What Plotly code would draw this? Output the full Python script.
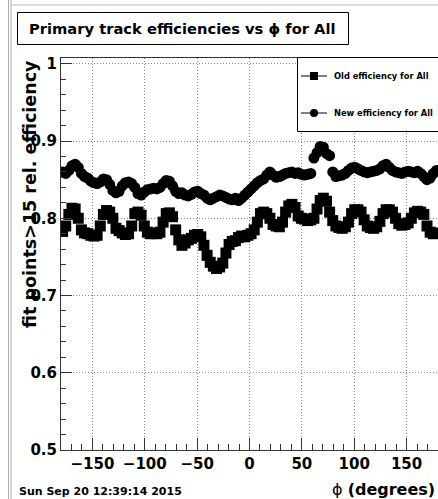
import numpy as np
import plotly.graph_objects as go

# phi bin centres (3 degree bins over the full azimuth)
phi = np.arange(-178.5, 180.0, 3.0)

# relative efficiency, old tracking (one row per 30 degrees)
old_eff = [
    0.783, 0.790, 0.805, 0.813, 0.812, 0.800, 0.785, 0.781, 0.780, 0.778,
    0.777, 0.778, 0.790, 0.805, 0.810, 0.808, 0.800, 0.787, 0.784, 0.781,
    0.779, 0.780, 0.790, 0.806, 0.808, 0.804, 0.790, 0.782, 0.780, 0.781,
    0.780, 0.782, 0.795, 0.806, 0.807, 0.802, 0.785, 0.772, 0.765, 0.768,
    0.772, 0.774, 0.778, 0.779, 0.776, 0.765, 0.752, 0.743, 0.738, 0.735,
    0.737, 0.742, 0.755, 0.766, 0.770, 0.771, 0.775, 0.777, 0.776, 0.778,
    0.780, 0.785, 0.795, 0.806, 0.808, 0.806, 0.800, 0.792, 0.790, 0.789,
    0.795, 0.808, 0.816, 0.818, 0.814, 0.803, 0.800, 0.799, 0.797, 0.798,
    0.800, 0.812, 0.823, 0.826, 0.822, 0.808, 0.797, 0.790, 0.788, 0.787,
    0.789, 0.795, 0.806, 0.811, 0.811, 0.808, 0.798, 0.790, 0.788, 0.787,
    0.789, 0.796, 0.806, 0.811, 0.811, 0.808, 0.800, 0.793, 0.791, 0.792,
    0.794, 0.800, 0.807, 0.809, 0.808, 0.805, 0.790, 0.782, 0.780, 0.781,
]

# relative efficiency, new tracking
new_eff = [
    0.860, 0.858, 0.862, 0.868, 0.870, 0.866, 0.858, 0.854, 0.852, 0.848,
    0.846, 0.845, 0.847, 0.851, 0.850, 0.844, 0.836, 0.833, 0.835, 0.842,
    0.846, 0.847, 0.845, 0.840, 0.832, 0.830, 0.834, 0.837, 0.838, 0.839,
    0.838, 0.840, 0.845, 0.849, 0.848, 0.842, 0.835, 0.832, 0.833, 0.830,
    0.829, 0.831, 0.834, 0.835, 0.832, 0.830, 0.826, 0.824, 0.826, 0.828,
    0.830, 0.829, 0.827, 0.825, 0.824, 0.826, 0.823, 0.826, 0.830, 0.834,
    0.838, 0.842, 0.846, 0.849, 0.851, 0.856, 0.860, 0.856, 0.853, 0.854,
    0.856, 0.858, 0.859, 0.860, 0.858, 0.859, 0.857, 0.856, 0.857, 0.858,
    0.878, 0.885, 0.893, 0.892, 0.884, 0.881, 0.860, 0.854, 0.855, 0.856,
    0.858, 0.862, 0.865, 0.866, 0.864, 0.862, 0.860, 0.859, 0.860, 0.861,
    0.862, 0.864, 0.868, 0.870, 0.866, 0.862, 0.860, 0.859, 0.858, 0.860,
    0.861, 0.860, 0.859, 0.861, 0.858, 0.854, 0.850, 0.852, 0.858, 0.862,
]

series_names = ["Old efficiency for All", "New efficiency for All"]
title_text = "Primary track efficiencies vs \u03d5 for All"
y_title = "fit points>15 rel. efficiency"
x_title = "\u03d5 <b>(degrees)</b>"
date_text = "Sun Sep 20 12:39:14 2015"

W, H = 438, 499
L, R, T, B = 61, 0, 58, 49
pw, ph = W - L - R, H - T - B

def px(x):
    return (x - L) / pw

def py(y):
    return (H - B - y) / ph

FONT = "DejaVu Sans"

fig = go.Figure()
fig.add_trace(go.Scatter(x=phi, y=old_eff, mode="markers", name=series_names[0],
                         marker=dict(symbol="square", size=11, color="black",
                                     line=dict(width=0))))
fig.add_trace(go.Scatter(x=phi, y=new_eff, mode="markers", name=series_names[1],
                         marker=dict(symbol="circle", size=11, color="black",
                                     line=dict(width=0))))

axis_common = dict(
    showline=True, linecolor="#333", linewidth=1, mirror=True,
    ticks="inside", tickcolor="#333", showgrid=True, gridcolor="#888",
    griddash="1px,2px", gridwidth=1, zeroline=False, automargin=False,
    tickfont=dict(family=FONT, size=15, color="black", weight="bold"),
)

fig.update_xaxes(range=[-180, 180], tick0=0, dtick=50, ticklen=12,
                 minor=dict(dtick=10, ticklen=6, ticks="inside", tickcolor="#333",
                            showgrid=False),
                 **axis_common)
fig.update_yaxes(range=[0.5, 1.0075], tick0=0.5, dtick=0.1, ticklen=11,
                 minor=dict(dtick=0.02, ticklen=5, ticks="inside", tickcolor="#333",
                            showgrid=False),
                 **axis_common)

shapes = []
annotations = []

# canvas edges
shapes.append(dict(type="line", xref="paper", yref="paper",
                   x0=px(8.5), x1=px(8.5), y0=py(0), y1=py(H), line=dict(color="#aaa", width=1)))
shapes.append(dict(type="line", xref="paper", yref="paper",
                   x0=px(11), x1=px(11), y0=py(0), y1=py(H), line=dict(color="#aaa", width=1)))
shapes.append(dict(type="line", xref="paper", yref="paper",
                   x0=px(11), x1=px(W), y0=py(5), y1=py(5), line=dict(color="#bbb", width=1)))

# title box
shapes.append(dict(type="rect", xref="paper", yref="paper",
                   x0=px(17.5), x1=px(348.5), y0=py(12.5), y1=py(44.5),
                   line=dict(color="black", width=1), fillcolor="white"))
annotations.append(dict(text=f"<b>{title_text}</b>", xref="paper", yref="paper",
                        x=px(182), y=py(29), xanchor="center", yanchor="middle",
                        showarrow=False, font=dict(family=FONT, size=14.7, color="black")))

# legend box
lx0, ly0, ly1 = 297.5, 57.5, 131.5
shapes.append(dict(type="rect", xref="paper", yref="paper",
                   x0=px(lx0), x1=px(W + 5), y0=py(ly0), y1=py(ly1),
                   line=dict(color="black", width=1), fillcolor="white"))
for name, sym, yy in [(series_names[0], "square", 76), (series_names[1], "circle", 113)]:
    shapes.append(dict(type="line", xref="paper", yref="paper",
                       x0=px(301), x1=px(327), y0=py(yy), y1=py(yy),
                       line=dict(color="black", width=1)))
    shapes.append(dict(type="rect" if sym == "square" else "circle",
                       xref="paper", yref="paper",
                       x0=px(310), x1=px(318), y0=py(yy - 4), y1=py(yy + 4),
                       line=dict(color="black", width=0), fillcolor="black"))
    annotations.append(dict(text=f"<b>{name}</b>", xref="paper", yref="paper",
                            x=px(332), y=py(yy), xanchor="left", yanchor="middle",
                            showarrow=False, font=dict(family=FONT, size=8.3, color="black")))

# axis titles
annotations.append(dict(text=f"<b>{y_title}</b>", xref="paper", yref="paper",
                        x=px(30), y=py(58), xanchor="center", yanchor="top",
                        textangle=-90, showarrow=False,
                        font=dict(family=FONT, size=17.5, color="black")))
annotations.append(dict(text=x_title, xref="paper", yref="paper",
                        x=px(437), y=py(490), xanchor="right", yanchor="middle",
                        showarrow=False, font=dict(family=FONT, size=16, color="black")))
annotations.append(dict(text=f"<b>{date_text}</b>", xref="paper", yref="paper",
                        x=px(17), y=py(491), xanchor="left", yanchor="middle",
                        showarrow=False, font=dict(family=FONT, size=11, color="black")))

fig.update_layout(
    width=W, height=H, margin=dict(l=L, r=R, t=T, b=B, pad=0, autoexpand=False),
    paper_bgcolor="white", plot_bgcolor="white",
    showlegend=False, shapes=shapes, annotations=annotations,
)

fig.write_html("out.html", config={"displayModeBar": False})
